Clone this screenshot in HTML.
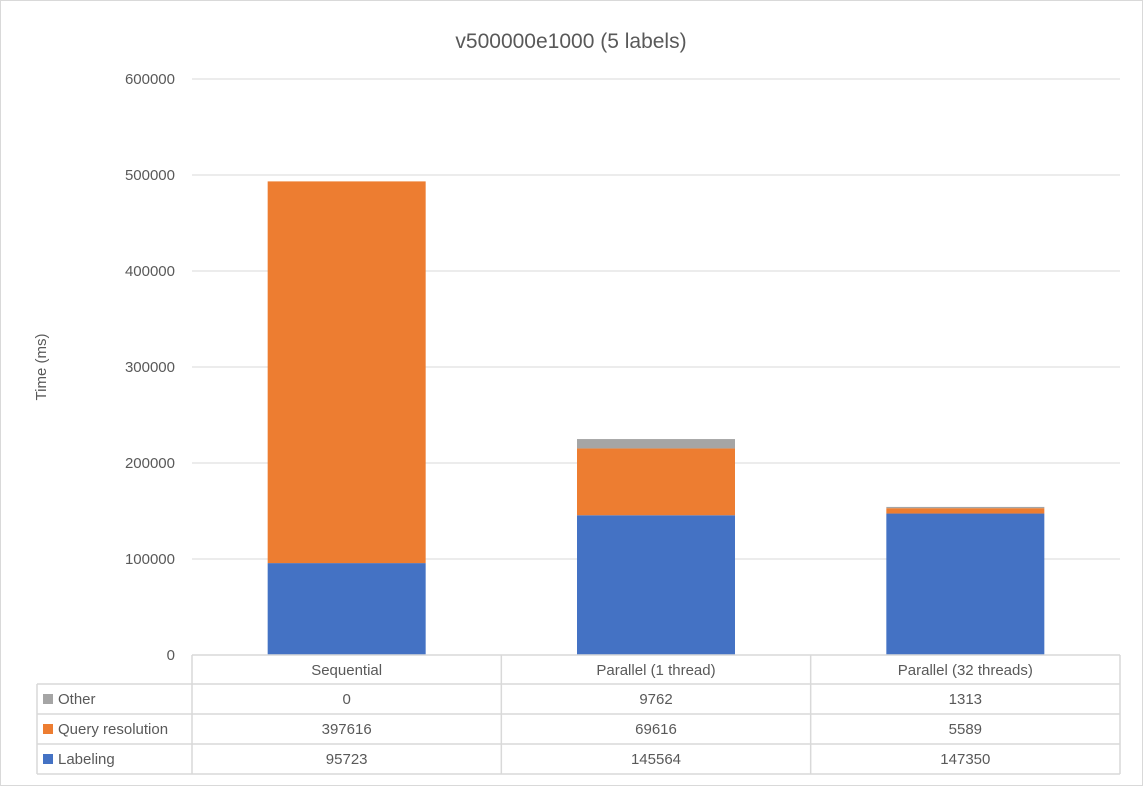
<!DOCTYPE html>
<html><head><meta charset="utf-8"><style>
body{margin:0;background:#fff;}
svg{display:block;font-family:"Liberation Sans",sans-serif;}
</style></head><body>
<svg id="c" width="1143" height="787">
<rect x="0.5" y="0.5" width="1142" height="785" fill="#fff" stroke="#d9d9d9"/>
<text x="571" y="48" text-anchor="middle" font-size="21" fill="#595959">v500000e1000 (5 labels)</text>
<text transform="translate(46,367) rotate(-90)" text-anchor="middle" font-size="15" fill="#595959">Time (ms)</text>
<g id="grid"></g><g id="bars"></g><g id="table"></g>
</svg>
<script>
const categories=["Sequential","Parallel (1 thread)","Parallel (32 threads)"];
const seriesNames=["Labeling","Query resolution","Other"];
const labeling=[95723,145564,147350];
const query=[397616,69616,5589];
const other=[0,9762,1313];
const ticks=[0,100000,200000,300000,400000,500000,600000];
const colors=["#4472c4","#ed7d31","#a5a5a5"];
const NS="http://www.w3.org/2000/svg";
const x0=192,x1=1120,y0=655,ytop=79,ymax=600000;
const cw=(x1-x0)/categories.length;
const y=v=>y0-(v/ymax)*(y0-ytop);
const xc=i=>x0+cw*(i+0.5);
function mk(t,a,p){const e=document.createElementNS(NS,t);for(const k in a)e.setAttribute(k,a[k]);p.appendChild(e);return e;}
const g=document.getElementById('grid'),b=document.getElementById('bars'),tb=document.getElementById('table');
ticks.forEach(t=>{
 if(t>0){const l=mk('line',{x1:x0,x2:x1,y1:y(t),y2:y(t),stroke:'#d9d9d9'},g);
 
 }
 const tx=mk('text',{x:175,y:y(t)+5,'text-anchor':'end','font-size':15,fill:'#595959'},g);tx.textContent=t;
 
 
});
const data=[labeling,query,other];
categories.forEach((c,i)=>{
 let base=0;
 data.forEach((s,k)=>{
  const v=s[i];const r=mk('rect',{x:xc(i)-79,width:158,y:y(base+v),height:y(base)-y(base+v),fill:colors[k]},b);
  
  
  base+=v;
 });
});
// table
const rowsY=[655,684,714,744,774];
const st={stroke:'#d9d9d9','stroke-width':1.5};
mk('line',Object.assign({x1:x0,x2:x1,y1:655,y2:655},st),tb);
[684,714,744,774].forEach(yy=>mk('line',Object.assign({x1:37,x2:x1,y1:yy,y2:yy},st),tb));
mk('line',Object.assign({x1:37,x2:37,y1:684,y2:774},st),tb);
for(let i=0;i<=categories.length;i++)mk('line',Object.assign({x1:x0+cw*i,x2:x0+cw*i,y1:655,y2:774},st),tb);
categories.forEach((c,i)=>{const t=mk('text',{x:xc(i),y:675,'text-anchor':'middle','font-size':15,fill:'#595959'},tb);t.textContent=c;
 
 });
const order=[2,1,0];
order.forEach((k,r)=>{
 const yy=rowsY[r+1];
 const sw=mk('rect',{x:43,y:yy+10,width:10,height:10,fill:colors[k]},tb);
 
 
 const lt=mk('text',{x:58,y:yy+20,'font-size':15,fill:'#595959'},tb);lt.textContent=seriesNames[k];
 
 
 categories.forEach((c,i)=>{const t=mk('text',{x:xc(i),y:yy+20,'text-anchor':'middle','font-size':15,fill:'#595959'},tb);t.textContent=data[k][i];
  
  });
});
</script>
</body></html>
